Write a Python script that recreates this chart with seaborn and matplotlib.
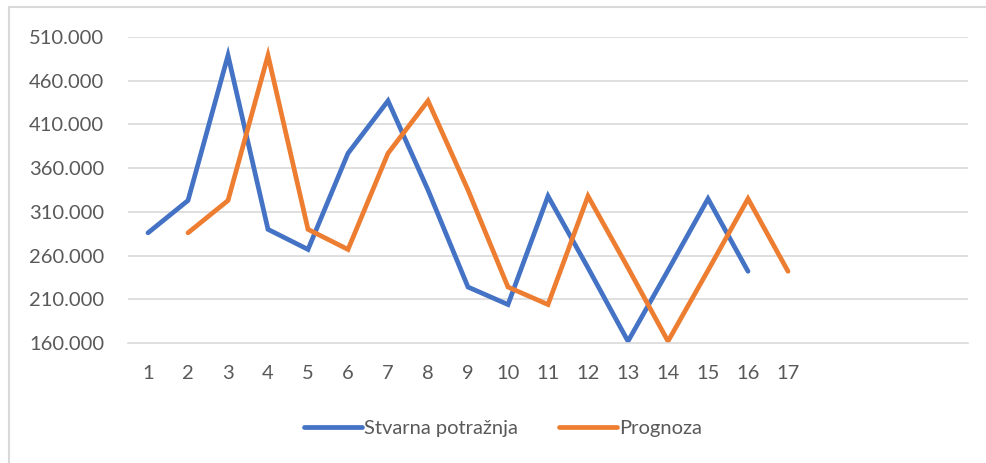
import matplotlib

matplotlib.use("Agg")
import matplotlib.pyplot as plt  # noqa: E402
import numpy as np  # noqa: E402
import pandas as pd  # noqa: E402
import seaborn as sns  # noqa: E402
from matplotlib.patches import Rectangle  # noqa: E402

# data (thousands)
periods = list(range(1, 18))
actual = [286, 323, 489, 290, 267, 377, 437, 335, 224, 204, 328, 246, 162, 243, 325, 242, np.nan]
forecast = [np.nan, 286, 323, 489, 290, 267, 377, 437, 335, 224, 204, 328, 246, 162, 243, 325, 242]
series_names = ["Stvarna potražnja", "Prognoza"]
y_ticks = [160, 210, 260, 310, 360, 410, 460, 510]
n_categories = 21

BLUE = "#4472C4"
ORANGE = "#ED7D31"
GRID = "#D9D9D9"
TEXT = "#595959"
FS = 14.5

sns.set_theme(style="white")
plt.rcParams["font.family"] = ["Lato", "DejaVu Sans"]

df = pd.DataFrame({
    "period": periods * 2,
    "value": actual + forecast,
    "series": [series_names[0]] * len(periods) + [series_names[1]] * len(periods),
})

fig = plt.figure(figsize=(9.87, 4.63), dpi=100)
ax = fig.add_axes([128 / 987, 1 - 343 / 463, 840 / 987, 306 / 463])

sns.lineplot(data=df, x="period", y="value", hue="series",
             palette=[BLUE, ORANGE], linewidth=3.4, ax=ax, legend=False,
             solid_capstyle="round", solid_joinstyle="miter")

ax.set_xlim(0.5, n_categories + 0.5)
ax.set_ylim(y_ticks[0], y_ticks[-1])
ax.set_yticks(y_ticks)
ax.set_yticklabels([f"{v}.000" for v in y_ticks], color=TEXT, fontsize=FS)
ax.set_xticks(periods)
ax.set_xticklabels([str(p) for p in periods], color=TEXT, fontsize=FS)
ax.set_xticks(np.arange(0.5, n_categories + 1), minor=True)
ax.tick_params(axis="x", which="major", length=0, pad=16)
ax.tick_params(axis="x", which="minor", length=6, width=1.2, color=GRID)
ax.tick_params(axis="y", length=0, pad=17)
ax.set_xlabel("")
ax.set_ylabel("")

for v in y_ticks[1:]:
    ax.axhline(v, color=GRID, lw=1.2, zorder=0)
for side in ["top", "right", "left"]:
    ax.spines[side].set_visible(False)
ax.spines["bottom"].set_color(GRID)
ax.spines["bottom"].set_linewidth(1.2)

# legend below the plot
handles = [plt.Line2D([], [], color=c, lw=3.4, solid_capstyle="round") for c in [BLUE, ORANGE]]
leg = fig.legend(handles, series_names, loc="center", bbox_to_anchor=(503 / 987, 1 - 428 / 463),
                 ncol=2, frameon=False, fontsize=FS, handlelength=2.9,
                 handletextpad=0.1, columnspacing=2.0)
for t in leg.get_texts():
    t.set_color(TEXT)

# chart frame (left and top edges visible in the reference)
fig.patches.append(Rectangle((9 / 987, -0.1), 1.1, 1 - 7 / 463 + 0.1, transform=fig.transFigure,
                             fill=False, edgecolor=GRID, lw=1.5))

fig.savefig("out.png", dpi=100)
